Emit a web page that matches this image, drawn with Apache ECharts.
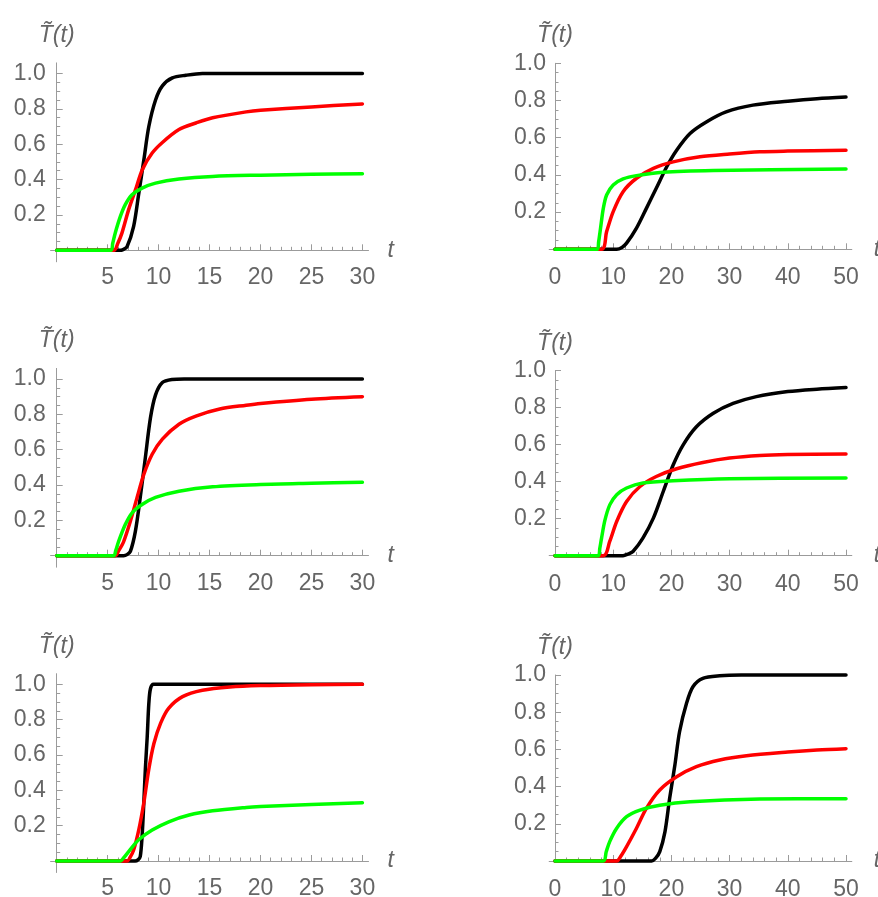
<!DOCTYPE html>
<html><head><meta charset="utf-8">
<script src="https://cdn.jsdelivr.net/npm/echarts@6/dist/echarts.min.js"></script>
<style>html,body{margin:0;padding:0;background:#fff}#c{width:878px;height:897px}</style>
</head><body><div id="c"></div>
<script>
// ---------------- data ----------------
const yAxisTitle = 'T\u0303(t)';
const xAxisTitle = 't';
const yTickValues = [0.2, 0.4, 0.6, 0.8, 1.0];
const leftXTickLabels = [5, 10, 15, 20, 25, 30];
const rightXTickLabels = [0, 10, 20, 30, 40, 50];

// panel 1 (top-left)
const p1Black = [[0,0],[6.2,0],[6.5,0.004],[6.9,0.02],[7.55,0.135],[8.05,0.32],[8.55,0.51],[9.04,0.70],[9.7,0.85],[10.37,0.93],[11.35,0.975],[12.67,0.99],[14.3,1.0],[20,1.0],[30,1.0]];
const p1Red = [[0,0],[5.6,0],[6.0,0.04],[6.4,0.097],[7.06,0.23],[7.72,0.34],[8.4,0.456],[9.37,0.55],[10.37,0.61],[12.0,0.683],[13.66,0.72],[15.3,0.75],[18.6,0.783],[20,0.792],[25,0.811],[30,0.828]];
const p1Green = [[0,0],[5.3,0],[5.5,0.04],[5.74,0.097],[6.24,0.19],[6.73,0.258],[7.39,0.314],[8.38,0.352],[9.7,0.38],[12,0.403],[15.3,0.418],[20,0.425],[25,0.43],[30,0.433]];

// panel 2 (top-right)
const p2Black = [[0,0],[10.6,0],[11.5,0.01],[12.3,0.033],[14.0,0.114],[15.7,0.22],[17.4,0.328],[19.2,0.444],[20.9,0.533],[23.2,0.623],[26.0,0.685],[29.4,0.739],[34.0,0.775],[40,0.796],[45,0.81],[50,0.819]];
const p2Red = [[0,0],[8.0,0],[8.87,0.095],[10.0,0.203],[11.7,0.31],[14.0,0.382],[16.9,0.435],[20.3,0.47],[24.9,0.497],[30,0.512],[35.2,0.524],[40,0.528],[50,0.533]];
const p2Green = [[0,0],[7.26,0],[7.5,0.04],[7.83,0.114],[8.3,0.22],[8.87,0.292],[10,0.346],[11.7,0.378],[14,0.396],[18.6,0.414],[27.2,0.423],[50,0.432]];

// panel 3 (middle-left)
const p3Black = [[0,0],[6.57,0],[6.9,0.006],[7.23,0.024],[7.72,0.138],[8.2,0.33],[8.7,0.555],[9.2,0.78],[9.7,0.91],[10.37,0.98],[11.3,0.997],[12.5,1.0],[30,1.0]];
const p3Red = [[0,0],[5.74,0],[6.1,0.03],[6.57,0.08],[7.23,0.195],[7.89,0.33],[8.55,0.46],[9.37,0.574],[10.37,0.66],[12.0,0.744],[13.66,0.79],[16.0,0.83],[18.6,0.852],[20,0.862],[25,0.886],[30,0.9]];
const p3Green = [[0,0],[5.58,0],[5.8,0.03],[6.07,0.08],[6.73,0.176],[7.4,0.243],[8.38,0.29],[9.7,0.33],[12,0.365],[15.3,0.39],[20,0.403],[25,0.41],[30,0.416]];

// panel 4 (middle-right)
const p4Black = [[0,0],[11.7,0],[12.5,0.008],[13.4,0.023],[15.1,0.095],[16.9,0.203],[18.6,0.347],[20.3,0.49],[22,0.598],[24.3,0.697],[27.2,0.77],[30.6,0.823],[34.6,0.86],[40,0.887],[45,0.9],[50,0.909]];
const p4Red = [[0,0],[8.3,0],[9.4,0.077],[10.6,0.185],[12.3,0.293],[14.6,0.374],[17.4,0.428],[20.9,0.47],[25.4,0.504],[30,0.528],[35.2,0.542],[40,0.547],[50,0.55]];
const p4Green = [[0,0],[7.43,0],[7.7,0.04],[8.0,0.095],[8.58,0.192],[9.43,0.276],[10.6,0.33],[12.3,0.366],[15.1,0.393],[20.3,0.405],[30,0.416],[50,0.42]];

// panel 5 (bottom-left)
const p5Black = [[0,0],[7.7,0],[8.0,0.008],[8.2,0.025],[8.38,0.14],[8.55,0.33],[8.7,0.52],[8.88,0.70],[9.04,0.89],[9.2,0.975],[9.5,1.0],[30,1.0]];
const p5Red = [[0,0],[6.9,0],[7.2,0.02],[7.55,0.062],[8.05,0.175],[8.55,0.33],[9.04,0.52],[9.54,0.665],[10.2,0.78],[11.0,0.865],[12.35,0.93],[14.3,0.966],[17,0.985],[20,0.993],[25,0.998],[30,1.0]];
const p5Green = [[0,0],[6.24,0],[6.6,0.02],[7.06,0.053],[8.05,0.12],[9.37,0.175],[11,0.222],[13,0.26],[15.3,0.284],[18.6,0.303],[20,0.308],[25,0.32],[30,0.33]];

// panel 6 (bottom-right)
const p6Black = [[0,0],[16.6,0],[17.3,0.015],[18.0,0.05],[18.9,0.158],[19.7,0.337],[20.6,0.516],[21.4,0.695],[22.6,0.848],[23.7,0.937],[25.4,0.982],[28.3,0.996],[32,1.0],[50,1.0]];
const p6Red = [[0,0],[10.6,0],[11.3,0.025],[12.3,0.077],[14.0,0.176],[15.7,0.283],[18.0,0.382],[20.9,0.453],[24.3,0.507],[28.3,0.543],[32.9,0.566],[40,0.586],[45,0.597],[50,0.604]];
const p6Green = [[0,0],[8.3,0],[8.8,0.05],[9.4,0.104],[10.6,0.176],[12.3,0.238],[14.6,0.274],[18.0,0.30],[23.2,0.319],[35.2,0.333],[50,0.335]];

// ---------------- layout & style ----------------
const AXIS_COLOR = '#9b9b9b';
const TEXT_COLOR = '#666666';
const FONT = "'Liberation Sans', Arial, sans-serif";
const CURVE_COLORS = ['#000000', '#ff0000', '#00ff00'];

const LEFT = { xMax: 30, xStep: 5, xLabels: leftXTickLabels, fxMin: -0.6, fxMax: 30.6, fyMin: -0.065, fyMax: 1.06, yMargin: 11, xMargin: 16, tGap: 19 };
const RIGHT = { xMax: 50, xStep: 10, xLabels: rightXTickLabels, fxMin: -1, fxMax: 51, fyMin: 0, fyMax: 1, yMargin: 9, xMargin: 17, tGap: 22 };

const panels = [
  { kind: LEFT,  rect: { left: 56.7, top: 73.5,  w: 305.7, h: 176.8 }, curves: [p1Black, p1Red, p1Green] },
  { kind: RIGHT, rect: { left: 555,  top: 63.3,  w: 291,   h: 186   }, curves: [p2Black, p2Red, p2Green] },
  { kind: LEFT,  rect: { left: 56.7, top: 379,   w: 305.7, h: 176.7 }, curves: [p3Black, p3Red, p3Green] },
  { kind: RIGHT, rect: { left: 555,  top: 370.7, w: 291,   h: 185   }, curves: [p4Black, p4Red, p4Green] },
  { kind: LEFT,  rect: { left: 56.7, top: 684.3, w: 305.7, h: 176.7 }, curves: [p5Black, p5Red, p5Green] },
  { kind: RIGHT, rect: { left: 555,  top: 675,   w: 291,   h: 186   }, curves: [p6Black, p6Red, p6Green] }
];

const grids = [], xAxes = [], yAxes = [], series = [];
const nameStyle = { color: TEXT_COLOR, fontFamily: FONT, fontSize: 23, fontStyle: 'italic' };

panels.forEach((p, i) => {
  const k = p.kind, r = p.rect;
  const kx = r.w / k.xMax, ky = r.h;
  const fi = 2 * i, di = 2 * i + 1;
  // frame grid: axis lines with Mathematica-like overhang
  grids.push({
    left: r.left + k.fxMin * kx, top: r.top - (k.fyMax - 1) * ky,
    width: (k.fxMax - k.fxMin) * kx, height: (k.fyMax - k.fyMin) * ky,
    containLabel: false, outerBoundsMode: 'none'
  });
  xAxes.push({
    gridIndex: fi, type: 'value', min: k.fxMin, max: k.fxMax,
    axisLine: { show: true, onZero: true, lineStyle: { color: AXIS_COLOR, width: 1 } },
    axisTick: { show: false }, axisLabel: { show: false }, splitLine: { show: false },
    name: xAxisTitle, nameLocation: 'end', nameGap: k.tGap, nameTextStyle: nameStyle
  });
  yAxes.push({
    gridIndex: fi, type: 'value', min: k.fyMin, max: k.fyMax,
    axisLine: { show: true, onZero: true, lineStyle: { color: AXIS_COLOR, width: 1 } },
    axisTick: { show: false }, axisLabel: { show: false }, splitLine: { show: false },
    name: yAxisTitle, nameLocation: 'end', nameGap: 16, nameTextStyle: nameStyle
  });
  // data grid: ticks, labels and curves
  grids.push({ left: r.left, top: r.top, width: r.w, height: r.h, containLabel: false, outerBoundsMode: 'none' });
  xAxes.push({
    gridIndex: di, type: 'value', min: 0, max: k.xMax, interval: k.xStep,
    axisLine: { show: false },
    axisTick: { show: true, inside: true, length: 6, lineStyle: { color: AXIS_COLOR } },
    minorTick: { show: true, splitNumber: 5, length: 3.5, lineStyle: { color: AXIS_COLOR } },
    splitLine: { show: false },
    axisLabel: {
      margin: k.xMargin, color: TEXT_COLOR, fontFamily: FONT, fontSize: 23,
      formatter: v => (k.xLabels.indexOf(Math.round(v)) >= 0 && Math.abs(v - Math.round(v)) < 1e-6) ? String(Math.round(v)) : ''
    }
  });
  yAxes.push({
    gridIndex: di, type: 'value', min: 0, max: 1, interval: 0.2,
    axisLine: { show: false },
    axisTick: { show: true, inside: true, length: 6, lineStyle: { color: AXIS_COLOR } },
    minorTick: { show: true, splitNumber: 4, length: 3.5, lineStyle: { color: AXIS_COLOR } },
    splitLine: { show: false },
    axisLabel: {
      margin: k.yMargin, color: TEXT_COLOR, fontFamily: FONT, fontSize: 23,
      formatter: v => yTickValues.some(t => Math.abs(t - v) < 1e-6) ? v.toFixed(1) : ''
    }
  });
  p.curves.forEach((data, j) => {
    series.push({
      type: 'line', xAxisIndex: di, yAxisIndex: di, data: data,
      showSymbol: false, symbol: 'none', smooth: 0.3,
      clip: false, silent: true, z: 2 + j,
      lineStyle: { color: CURVE_COLORS[j], width: 3.5, join: 'round', cap: 'round' },
      emphasis: { disabled: true }
    });
  });
});

const chart = echarts.init(document.getElementById('c'), null, { renderer: 'canvas' });
chart.setOption({ animation: false, backgroundColor: '#ffffff', grid: grids, xAxis: xAxes, yAxis: yAxes, series: series });
</script></body></html>
